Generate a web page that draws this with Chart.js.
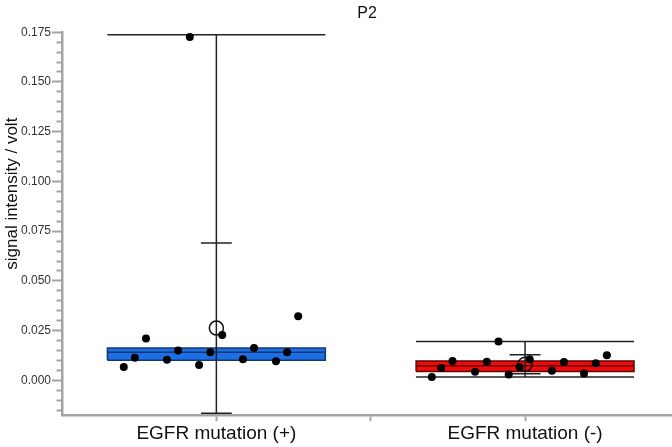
<!DOCTYPE html>
<html lang="en">
<head>
<meta charset="UTF-8">
<title>P2</title>
<style>
  html, body { margin: 0; padding: 0; background: #fff; }
  #wrap { width: 672px; height: 447px; }
</style>
</head>
<body>
<div id="wrap"><canvas id="chart" width="672" height="447"></canvas></div>
<script src="https://cdn.jsdelivr.net/npm/chart.js@4.4.1/dist/chart.umd.min.js"></script>
<script>
const categories = ["EGFR mutation (+)", "EGFR mutation (-)"];

// box: lower quartile, median, upper quartile
const boxLow  = [0.0101, 0.0045];
const boxMid  = [0.0141, 0.0073];
const boxHigh = [0.0163, 0.0098];
// mean marker and its +/- SD bar
const means = [0.0263, 0.0081];
const sds   = [0.0428, 0.0048];
// long range lines (the lower one is not drawn for the first group)
const rangeMax = [0.1737, 0.0196];
const rangeMin = [null, 0.0017];

// single measurements: jitter offset from the category centre, value
const jitterPlus  = [-0.300, -0.264, -0.228, -0.160, -0.124, -0.086, -0.056, -0.020, 0.019, 0.086, 0.122, 0.193, 0.229, 0.265];
const valuesPlus  = [0.0067, 0.0114, 0.0210, 0.0104, 0.0150, 0.1726, 0.0077, 0.0141, 0.0228, 0.0106, 0.0163, 0.0096, 0.0141, 0.0322];
const jitterMinus = [-0.302, -0.272, -0.235, -0.162, -0.124, -0.086, -0.053, -0.018, 0.015, 0.087, 0.126, 0.191, 0.229, 0.265];
const valuesMinus = [0.0017, 0.0062, 0.0097, 0.0044, 0.0094, 0.0196, 0.0029, 0.0067, 0.0106, 0.0049, 0.0092, 0.0034, 0.0086, 0.0126];

const yMajorTicks = ["0.000", "0.025", "0.050", "0.075", "0.100", "0.125", "0.150", "0.175"];
const yMinorStep = 0.005;
const yTitle = "signal intensity / volt";

const boxFill = ["#1c6fe6", "#f00a0a"];
const boxEdge = ["#15386e", "#5e0505"];
const boxHalf = 0.353;
const capHalf = 0.05;
const axisGrey = "#a3a3a3";
const fontFamily = "'Liberation Sans', Arial, sans-serif";

Chart.defaults.font.family = fontFamily;

const groups = [
  { jitter: jitterPlus, values: valuesPlus },
  { jitter: jitterMinus, values: valuesMinus }
];

const lineBase = { showLine: true, pointRadius: 0, borderColor: "#222", borderWidth: 1.5, fill: false, order: 2 };
const hline = (i, y, half, extra) => Object.assign({}, lineBase, {
  data: [{ x: i - half, y: y }, { x: i + half, y: y }]
}, extra || {});

const datasets = [];

groups.forEach((g, i) => {
  datasets.push({
    data: g.jitter.map((j, k) => ({ x: i + j, y: g.values[k] })),
    pointRadius: 4,
    pointBorderWidth: 0,
    pointBackgroundColor: "#000",
    order: 0
  });
});

datasets.push({
  data: means.map((m, i) => ({ x: i, y: m })),
  pointRadius: 7,
  pointBorderWidth: 1.5,
  pointBorderColor: "#111",
  pointBackgroundColor: "rgba(0,0,0,0)",
  order: 1
});

categories.forEach((c, i) => {
  const lo = Math.min(rangeMin[i] === null ? Infinity : rangeMin[i], means[i] - sds[i]);
  const hi = Math.max(rangeMax[i], means[i] + sds[i]);
  datasets.push(Object.assign({}, lineBase, { data: [{ x: i, y: lo }, { x: i, y: hi }] }));
  datasets.push(hline(i, means[i] + sds[i], capHalf));
  datasets.push(hline(i, means[i] - sds[i], capHalf));
  datasets.push(hline(i, rangeMax[i], boxHalf));
  if (rangeMin[i] !== null) datasets.push(hline(i, rangeMin[i], boxHalf));
  datasets.push(hline(i, boxMid[i], boxHalf, { borderColor: boxEdge[i], borderWidth: 1.5, order: 3 }));
  datasets.push(Object.assign({}, lineBase, {
    data: [
      { x: i - boxHalf, y: boxLow[i] }, { x: i + boxHalf, y: boxLow[i] },
      { x: i + boxHalf, y: boxHigh[i] }, { x: i - boxHalf, y: boxHigh[i] },
      { x: i - boxHalf, y: boxLow[i] }
    ],
    fill: "shape",
    backgroundColor: boxFill[i],
    borderColor: boxEdge[i],
    borderWidth: 1.5,
    borderJoinStyle: "miter",
    order: 4
  }));
});

const isMajor = (v) => yMajorTicks.includes(v.toFixed(3));

// y axis title sits a bit above the middle of the axis in the original
const yTitlePlugin = {
  id: "yTitle",
  afterDraw(chart, args, opts) {
    const { ctx, chartArea } = chart;
    ctx.save();
    ctx.translate(opts.x, (chartArea.top + chartArea.bottom) / 2 + opts.shift);
    ctx.rotate(-Math.PI / 2);
    ctx.font = opts.size + "px " + fontFamily;
    ctx.fillStyle = opts.color;
    ctx.textAlign = "center";
    ctx.textBaseline = "middle";
    ctx.fillText(opts.text, 0, 0);
    ctx.restore();
  }
};

new Chart(document.getElementById("chart"), {
  type: "scatter",
  data: { datasets: datasets },
  plugins: [yTitlePlugin],
  options: {
    responsive: false,
    animation: false,
    layout: { autoPadding: false, padding: { left: 20, right: 0, top: 0, bottom: 1 } },
    plugins: {
      legend: { display: false },
      tooltip: { enabled: false },
      title: {
        display: true,
        text: "P2",
        fullSize: false,
        color: "#111",
        font: { size: 16, weight: "normal" },
        padding: { top: 4, bottom: 9 }
      },
      yTitle: { text: yTitle, x: 12, shift: -30, size: 17, color: "#111" }
    },
    scales: {
      x: {
        type: "linear",
        min: -0.5,
        max: 1.476,
        offset: false,
        afterBuildTicks: (axis) => { axis.ticks = [0, 0.5, 1].map((v) => ({ value: v })); },
        ticks: {
          autoSkip: false,
          maxRotation: 0,
          padding: 1,
          color: "#111",
          font: { size: 19 },
          callback: (v) => (Number.isInteger(v) ? categories[v] : "")
        },
        grid: { drawOnChartArea: false, tickLength: 6, tickColor: axisGrey, tickWidth: 2 },
        border: { color: axisGrey, width: 2.5 }
      },
      y: {
        min: -0.0175,
        max: 0.175,
        afterBuildTicks: (axis) => {
          const t = [];
          for (let k = -3; k <= 35; k++) t.push({ value: Math.round(k * yMinorStep * 1000) / 1000 });
          axis.ticks = t;
        },
        ticks: {
          autoSkip: false,
          padding: 1,
          color: "#333",
          font: { size: 12 },
          callback: (v) => (isMajor(v) ? v.toFixed(3) : "")
        },
        grid: {
          drawOnChartArea: false,
          tickLength: 10,
          tickColor: axisGrey,
          tickWidth: 2,
          tickBorderDash: (ctx) => (ctx.tick && isMajor(ctx.tick.value) ? [] : [0, 4.5, 6, 0])
        },
        border: { color: axisGrey, width: 2.5 }
      }
    }
  }
});
</script>
</body>
</html>
